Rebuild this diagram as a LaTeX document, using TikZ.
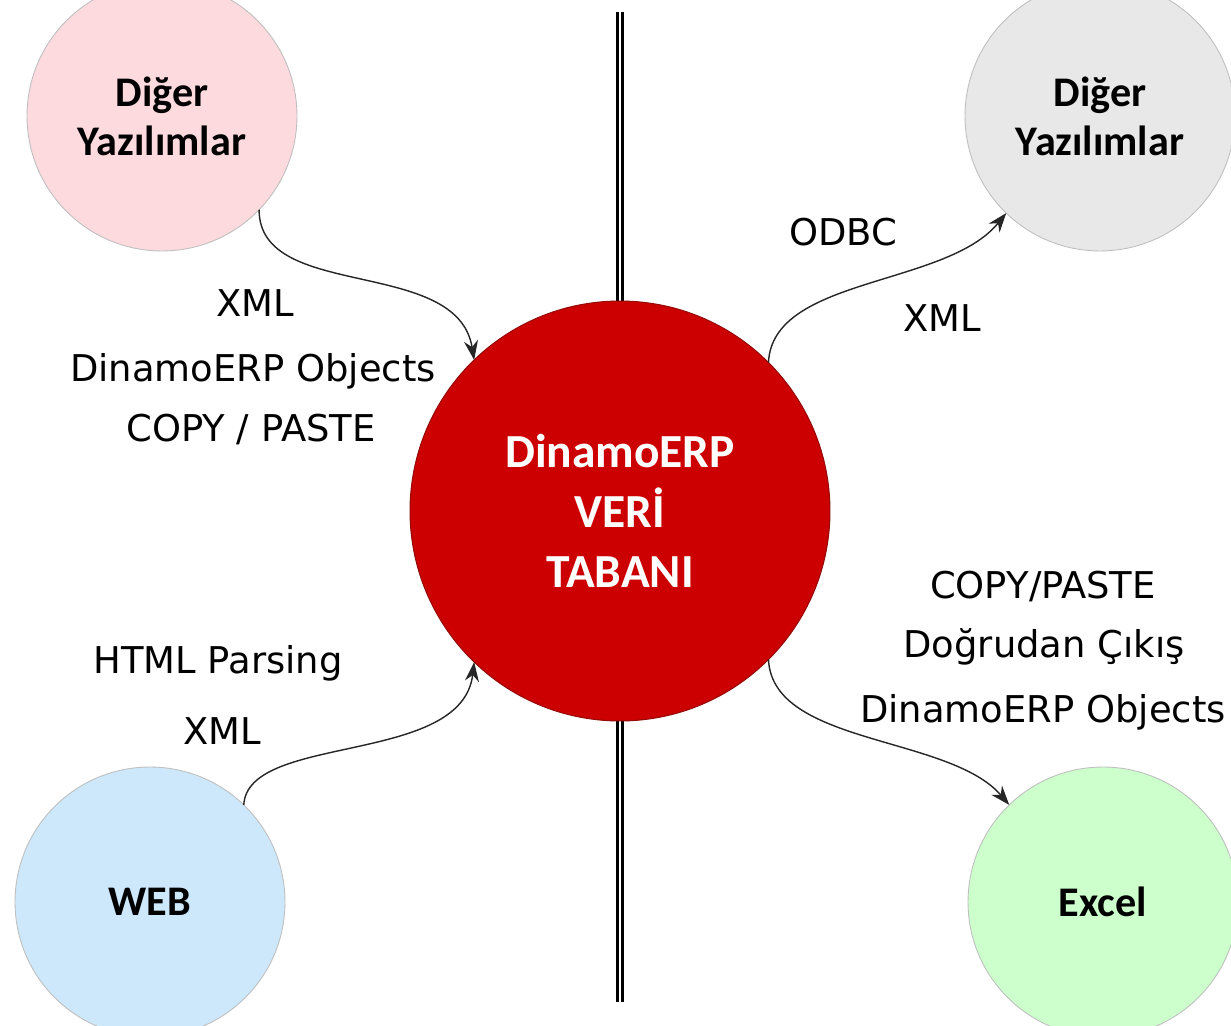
\documentclass[tikz,border=0pt]{standalone}
\usepackage{fontspec}
\setmainfont{DejaVu Sans}
\newfontfamily\carl{Carlito}
\usetikzlibrary{arrows.meta}
\definecolor{pinkfill}{RGB}{252,218,222}
\definecolor{greyfill}{RGB}{232,232,232}
\definecolor{bluefill}{RGB}{204,232,250}
\definecolor{greenfill}{RGB}{204,255,204}
\definecolor{dbred}{RGB}{204,0,0}
\definecolor{dbrim}{RGB}{150,10,10}
\tikzset{ %circles round the data base
  app/.style={circle,draw=black!25,line width=0.5pt,minimum size=5.4cm,inner sep=0pt,outer sep=0pt,
    align=center,font=\carl\bfseries\fontsize{24pt}{28pt}\selectfont},
  db/.style={circle,draw=dbrim,line width=0.6pt,fill=dbred,minimum size=8.4cm,inner sep=0pt,outer sep=0pt,
    align=center,text=white,font=\carl\bfseries\fontsize{27pt}{34pt}\selectfont},
  lbl/.style={font=\fontsize{21pt}{25pt}\selectfont,inner sep=0pt},
  flow/.style={draw=black!85,line width=0.8pt,-{Stealth[length=11pt,width=8pt]}}
}
\begin{document}
\begin{tikzpicture}[x=0.02cm,y=-0.02cm]
\fill[white] (0,0) rectangle (1231,1026);
\useasboundingbox (0,0) rectangle (1231,1026);

% the dividing line
\coordinate (top) at (620,12);
\coordinate (bot) at (620,1002);
\draw[line width=0.06cm,double=white,double distance=0.04cm] (top) -- (bot);

\node [app,fill=pinkfill] (soft1) at (162,116) {Diğer\\Yazılımlar};
\node [app,fill=greyfill] (soft2) at (1100,116) {Diğer\\Yazılımlar};
\node [app,fill=bluefill] (web) at (150,902) {WEB};
\node [app,fill=greenfill] (excel) at (1103,902) {Excel};
\node [db] (base) at (620,511) {DinamoERP\\VERİ\\TABANI};

\draw [flow] (soft1.-44) .. controls +(0,92) and +(-17,-104) .. (base.134);
\draw [flow] (base.45) .. controls +(4,-86) and +(-60,74) .. (soft2.226);
\draw [flow] (base.-45) .. controls +(4,86) and +(-60,-70) .. (excel.134);
\draw [flow] (web.46) .. controls +(4,-72) and +(-12,104) .. (base.-134);

\node [lbl] (xml1) at (255,303) {XML};
\node [lbl] (obj1) at (253,371) {DinamoERP Objects};
\node [lbl] (copy1) at (251,430) {COPY / PASTE};
\node [lbl] (odbc) at (843,232) {ODBC};
\node [lbl] (xml2) at (942,318) {XML};
\node [lbl] (html) at (218,663) {HTML Parsing};
\node [lbl] (xml3) at (222,731) {XML};
\node [lbl] (copy2) at (1043,587) {COPY/PASTE};
\node [lbl] (direct) at (1044,647) {Doğrudan Çıkış};
\node [lbl] (obj2) at (1043,712) {DinamoERP Objects};
\end{tikzpicture}
\end{document}
